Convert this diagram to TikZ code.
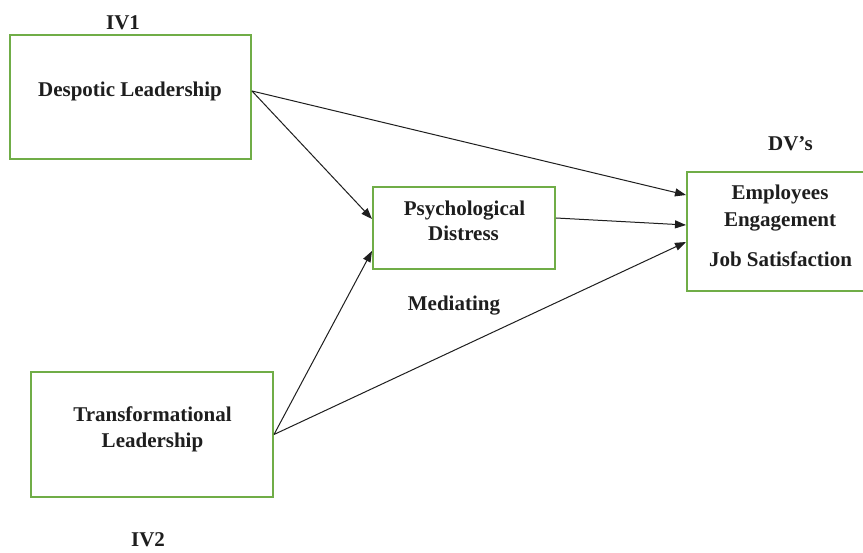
\documentclass[tikz,border=0pt]{standalone}
\usepackage{fontspec}
\setmainfont{Liberation Serif}
\usetikzlibrary{arrows.meta}
\definecolor{boxgreen}{HTML}{70AD47}
\definecolor{ink}{HTML}{1E1E1E}
\begin{document}
\begin{tikzpicture}[x=1pt,y=-1pt,
  box/.style={draw=boxgreen,line width=2pt,fill=white,inner sep=0pt},
  lbl/.style={anchor=base,font=\fontsize{21}{27}\selectfont\bfseries,text=ink,inner sep=0pt},
  arr/.style={-{Triangle[length=11pt,width=8pt]},line width=1pt,draw=ink}]
\useasboundingbox (0,0) rectangle (863,553);
\fill[white] (0,0) rectangle (863,553);
\clip (0,0) rectangle (863,553);

% boxes
\node[box,minimum width=241pt,minimum height=124pt] (desp) at (130.5,97) {};
\node[box,minimum width=242pt,minimum height=125pt] (trans) at (152,434.5) {};
\node[box,minimum width=182pt,minimum height=82pt] (psych) at (464,228) {};
\node[box,minimum width=186pt,minimum height=119pt] (dv) at (780,231.5) {};

% texts
\node[lbl] (iv1) at (123,30) {IV1};
\node[lbl] (desptxt) at (130,97) {Despotic Leadership};
\node[lbl] (dvs) at (790.5,151) {DV’s};
\node[lbl] (psy1) at (464.5,215.5) {Psychological};
\node[lbl] (psy2) at (463.5,241) {Distress};
\node[lbl] (med) at (454,311) {Mediating};
\node[lbl] (emp1) at (780,200) {Employees};
\node[lbl] (emp2) at (780,227) {Engagement};
\node[lbl] (job) at (780.5,267) {Job Satisfaction};
\node[lbl] (tr1) at (152.5,422) {Transformational};
\node[lbl] (tr2) at (152.5,448) {Leadership};
\node[lbl] (iv2) at (148,547) {IV2};

% connectors
\draw[arr] ([yshift=6pt]desp.east) -- ([yshift=36.5pt]dv.west);
\draw[arr] ([yshift=6pt]desp.east) -- ([yshift=9pt]psych.west);
\draw[arr] ([yshift=10pt]psych.east) -- ([yshift=6.5pt]dv.west);
\draw[arr] (trans.east) -- ([yshift=-23pt]psych.west);
\draw[arr] (trans.east) -- ([yshift=-10.5pt]dv.west);
\end{tikzpicture}
\end{document}
